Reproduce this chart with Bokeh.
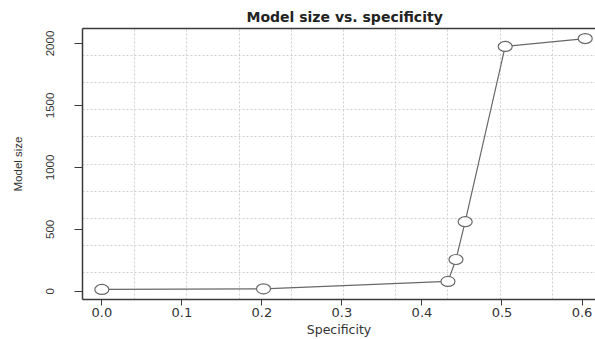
from bokeh.plotting import figure
from bokeh.models import FixedTicker, LinearAxis, Range1d
from bokeh.embed import file_html
from bokeh.resources import INLINE

# Data
specificity = [0.0, 0.202, 0.4325, 0.4425, 0.454, 0.504, 0.604]
model_size = [15, 20, 80, 257, 562, 1976, 2040]

x_ticks = [0.0, 0.1, 0.2, 0.3, 0.4, 0.5, 0.6]
y_ticks = [0, 500, 1000, 1500, 2000]

# R-style ranges (4% padding)
xpad = 0.04 * (max(specificity) - min(specificity))
ypad = 0.04 * (max(model_size) - min(model_size))
x_lo, x_hi = min(specificity) - xpad, max(specificity) + xpad
y_lo, y_hi = min(model_size) - ypad, max(model_size) + ypad

FONT = "DejaVu Sans"
NARROW = "Liberation Sans Narrow, Liberation Sans"
DARK = "#3a3a3a"

p = figure(width=595, height=339, output_backend="svg", toolbar_location=None,
           x_range=Range1d(x_lo, x_lo + 0.641), y_range=Range1d(y_lo, y_hi),
           min_border_left=82, min_border_right=0, min_border_top=28, min_border_bottom=39)

p.title.text = "Model size vs. specificity"
p.title.align = "left"
p.title.offset = 164
p.title.text_font = FONT
p.title.text_font_size = "14px"
p.title.text_font_style = "bold"
p.title.text_color = "#222222"
p.title.standoff = 8

p.outline_line_color = None
p.background_fill_color = "white"

# grid: 10 equal cells like R's grid()
p.xgrid.ticker = FixedTicker(ticks=[x_lo + k * (x_hi - x_lo) / 10 for k in range(1, 10)])
p.ygrid.ticker = FixedTicker(ticks=[y_lo + k * (y_hi - y_lo) / 10 for k in range(1, 10)])
for g in (p.xgrid, p.ygrid):
    g.grid_line_color = "#cfcfcf"
    g.grid_line_dash = "2 2"
    g.grid_line_width = 1

xa = p.xaxis[0]
xa.ticker = FixedTicker(ticks=x_ticks)
xa.major_label_overrides = {v: f"{v:.1f}" for v in x_ticks}
xa.axis_label = "Specificity"
xa.axis_label_text_font = FONT
xa.axis_label_text_font_size = "12.5px"
xa.axis_label_text_font_style = "normal"
xa.axis_label_text_color = "#333333"
xa.axis_label_standoff = 2
xa.major_label_text_font = FONT
xa.major_label_text_font_size = "13px"
xa.major_label_text_color = "#333333"
xa.major_label_standoff = 2
xa.major_tick_out = 6

ya = p.yaxis[0]
ya.ticker = FixedTicker(ticks=y_ticks)
ya.axis_label = "Model size"
ya.axis_label_text_font = NARROW
ya.axis_label_text_font_size = "11.5px"
ya.axis_label_text_font_style = "normal"
ya.axis_label_text_color = "#333333"
ya.axis_label_standoff = 20
ya.major_label_text_font = NARROW
ya.major_label_text_font_size = "11.5px"
ya.major_label_text_color = "#333333"
ya.major_label_orientation = "vertical"
ya.major_label_standoff = 20
ya.major_tick_out = 8

for ax in (xa, ya):
    ax.axis_line_color = DARK
    ax.axis_line_width = 1.5
    ax.major_tick_line_color = DARK
    ax.major_tick_in = 0
    ax.minor_tick_line_color = None

top = LinearAxis(axis_line_color=DARK, axis_line_width=1.5, ticker=FixedTicker(ticks=[]),
                 major_tick_line_color=None, minor_tick_line_color=None,
                 major_label_standoff=0, major_tick_out=0)
p.add_layout(top, "above")

p.line(specificity, model_size, line_color="#686868", line_width=1.2)
p.ellipse(specificity, model_size, width=14, height=10, width_units="screen",
          height_units="screen", fill_color="white", line_color="#686868", line_width=1.2)

open("out.html", "w").write(file_html(p, INLINE))
